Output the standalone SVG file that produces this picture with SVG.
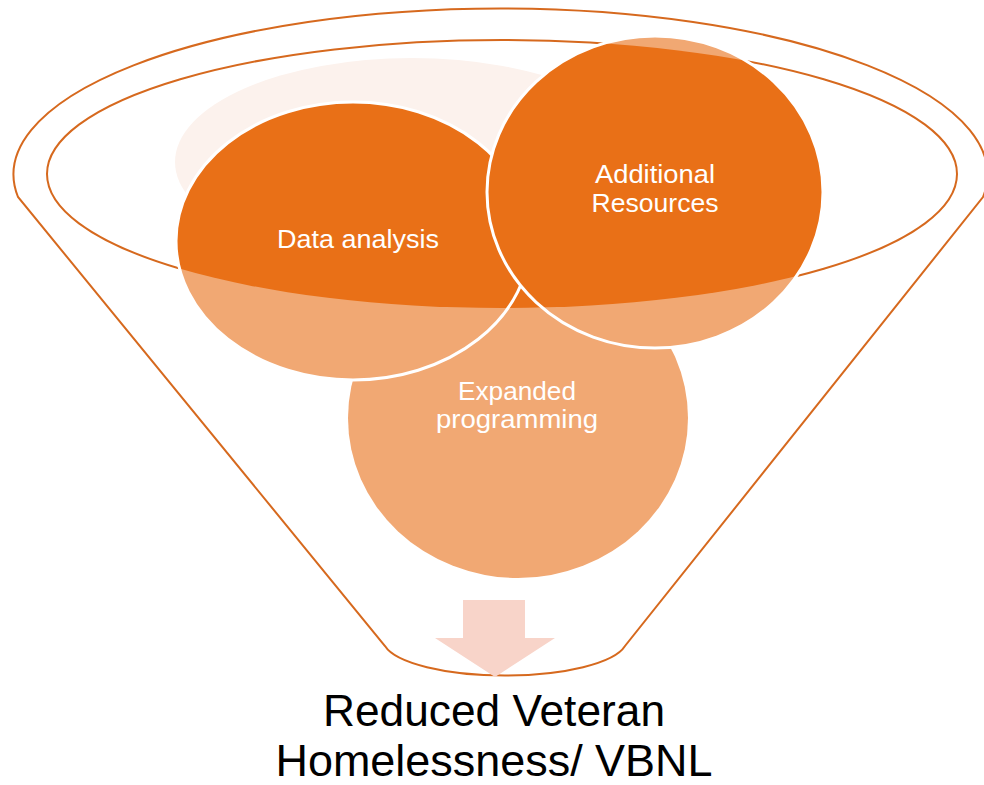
<svg xmlns="http://www.w3.org/2000/svg" width="984" height="785" viewBox="0 0 984 785">
<style>
.funnel{fill:none;stroke:#D6691E;stroke-width:2}
.light{fill:#F1A873}
.dark{fill:#E97017}
.rim{fill:none;stroke:#FFFFFF;stroke-width:3}
.lbl{font-family:"Liberation Sans",Arial,sans-serif;font-size:26px;fill:#FFFFFF;text-anchor:middle}
.out{font-family:"Liberation Sans",Arial,sans-serif;font-size:44px;fill:#000000;text-anchor:middle}
</style>
<defs>
<clipPath id="inner"><ellipse cx="502" cy="174" rx="455" ry="134"/></clipPath>
</defs>
<rect width="984" height="785" fill="#FFFFFF"/>
<g id="funnel">
<path class="funnel" d="M18,197 A487,166 0 1 1 983,197 L625,646 A122,36 0 0 1 385,646 Z"/>
<ellipse class="funnel" cx="502" cy="174" rx="455" ry="134"/>
<ellipse cx="412" cy="162" rx="237" ry="104" fill="#FCF2ED"/>
</g>
<g id="node-expanded">
<ellipse class="light" cx="518" cy="418" rx="170" ry="160"/>
<ellipse class="dark" cx="518" cy="418" rx="170" ry="160" clip-path="url(#inner)"/>
<text class="lbl" x="517" y="400" textLength="118" lengthAdjust="spacingAndGlyphs">Expanded</text>
<text class="lbl" x="517" y="428" textLength="162" lengthAdjust="spacingAndGlyphs">programming</text>
</g>
<g id="node-data">
<ellipse class="light" cx="353" cy="241" rx="177" ry="139"/>
<ellipse class="dark" cx="353" cy="241" rx="177" ry="139" clip-path="url(#inner)"/>
<ellipse class="rim" cx="353" cy="241" rx="177" ry="139"/>
<text class="lbl" x="358" y="248" textLength="162" lengthAdjust="spacingAndGlyphs">Data analysis</text>
</g>
<g id="node-additional">
<ellipse class="light" cx="655" cy="192" rx="168" ry="156"/>
<ellipse class="dark" cx="655" cy="192" rx="168" ry="156" clip-path="url(#inner)"/>
<ellipse class="rim" cx="655" cy="192" rx="168" ry="156"/>
<text class="lbl" x="655" y="183" textLength="120" lengthAdjust="spacingAndGlyphs">Additional</text>
<text class="lbl" x="655" y="212" textLength="127" lengthAdjust="spacingAndGlyphs">Resources</text>
</g>
<g id="connectors">
<path d="M463,600 H525 V638 H555 L495,677 L435,638 H463 Z" fill="#F8D4C9"/>
</g>
<g id="node-result">
<text class="out" x="494" y="726" textLength="342" lengthAdjust="spacingAndGlyphs">Reduced Veteran</text>
<text class="out" x="494" y="776" textLength="437" lengthAdjust="spacingAndGlyphs">Homelessness/ VBNL</text>
</g>
</svg>
